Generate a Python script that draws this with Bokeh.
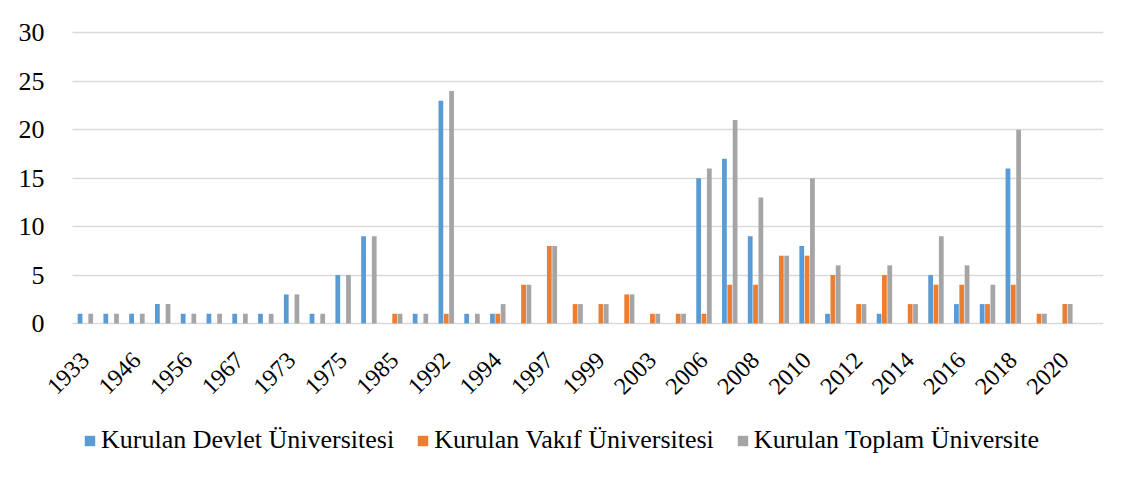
import numpy as np
from bokeh.plotting import figure
from bokeh.models import Range1d, FixedTicker, Legend, LegendItem
from bokeh.embed import file_html
from bokeh.resources import INLINE

years = ["1933", "1944", "1946", "1955", "1956", "1957", "1967", "1971", "1973", "1974",
         "1975", "1982", "1985", "1987", "1992", "1993", "1994", "1996", "1997", "1998",
         "1999", "2001", "2003", "2005", "2006", "2007", "2008", "2009", "2010", "2011",
         "2012", "2013", "2014", "2015", "2016", "2017", "2018", "2019", "2020"]
devlet = [1, 1, 1, 2, 1, 1, 1, 1, 3, 1, 5, 9, 0, 1, 23, 1, 1, 0, 0, 0,
          0, 0, 0, 0, 15, 17, 9, 0, 8, 1, 0, 1, 0, 5, 2, 2, 16, 0, 0]
vakif = [0, 0, 0, 0, 0, 0, 0, 0, 0, 0, 0, 0, 1, 0, 1, 0, 1, 4, 8, 2,
         2, 3, 1, 1, 1, 4, 4, 7, 7, 5, 2, 5, 2, 4, 4, 2, 4, 1, 2]
toplam = [d + v for d, v in zip(devlet, vakif)]
y_ticks = [0, 5, 10, 15, 20, 25, 30]
series_names = ["Kurulan Devlet Üniversitesi", "Kurulan Vakıf Üniversitesi", "Kurulan Toplam Üniversite"]
colors = ["#5B9BD5", "#ED7D31", "#A5A5A5"]

FONT = "Liberation Serif"

n = len(years)
x_end = n + 0.5
x_start = -0.5 - 64 / (1031 / (n + 1))   # room on the left for the value labels

# frame covers the whole chart area so axis labels and legend are drawn inside it
p = figure(frame_width=1095, frame_height=459, output_backend="svg", toolbar_location=None,
           x_range=Range1d(x_start, x_end), y_range=Range1d(-15.08, 32.32),
           min_border_left=8, min_border_right=17, min_border_top=10, min_border_bottom=0)
p.outline_line_color = None
p.background_fill_color = "white"
p.border_fill_color = "white"

x = np.arange(n)
off = 0.207
w = 0.185
renderers = []
for i, (vals, col) in enumerate(zip([devlet, vakif, toplam], colors)):
    r = p.vbar(x=x + (i - 1) * off, top=vals, width=w, fill_color=col, line_color=None)
    renderers.append(r)

p.xgrid.grid_line_color = None
p.ygrid.grid_line_color = "#d9d9d9"
p.ygrid.grid_line_width = 1.5
p.ygrid.ticker = FixedTicker(ticks=y_ticks)
p.ygrid.bounds = (0, 30)
for g in p.ygrid:
    if "cross_bounds" in g.properties():
        g.cross_bounds = (-0.5, x_end)

p.yaxis.fixed_location = -0.5
p.yaxis.ticker = FixedTicker(ticks=y_ticks)
p.yaxis.axis_line_color = None
p.yaxis.major_tick_line_color = None
p.yaxis.minor_tick_line_color = None
p.yaxis.major_label_text_font = FONT
p.yaxis.major_label_text_font_size = "26px"
p.yaxis.major_label_text_color = "black"
p.yaxis.major_label_standoff = 22

tick_pos = list(range(0, n, 2))
p.xaxis.ticker = FixedTicker(ticks=tick_pos)
p.xaxis.major_label_overrides = {i: years[i] for i in tick_pos}
p.xaxis.fixed_location = 0
p.xaxis.axis_line_color = None
p.xaxis.major_tick_line_color = None
p.xaxis.minor_tick_line_color = None
p.xaxis.major_label_orientation = np.pi / 4
p.xaxis.major_label_text_font = FONT
p.xaxis.major_label_text_font_size = "24px"
p.xaxis.major_label_text_color = "black"
p.xaxis.major_label_standoff = 27

legend = Legend(items=[LegendItem(label=s, renderers=[r]) for s, r in zip(series_names, renderers)],
                orientation="horizontal", location=(75, 14))
legend.label_text_font = FONT
legend.label_text_font_size = "26px"
legend.label_text_color = "black"
legend.glyph_width = 13
legend.glyph_height = 13
legend.label_standoff = 5
legend.spacing = 22
legend.padding = 0
legend.margin = 0
legend.border_line_color = None
legend.background_fill_alpha = 0
p.add_layout(legend, "center")

open("out.html", "w").write(file_html(p, INLINE))
